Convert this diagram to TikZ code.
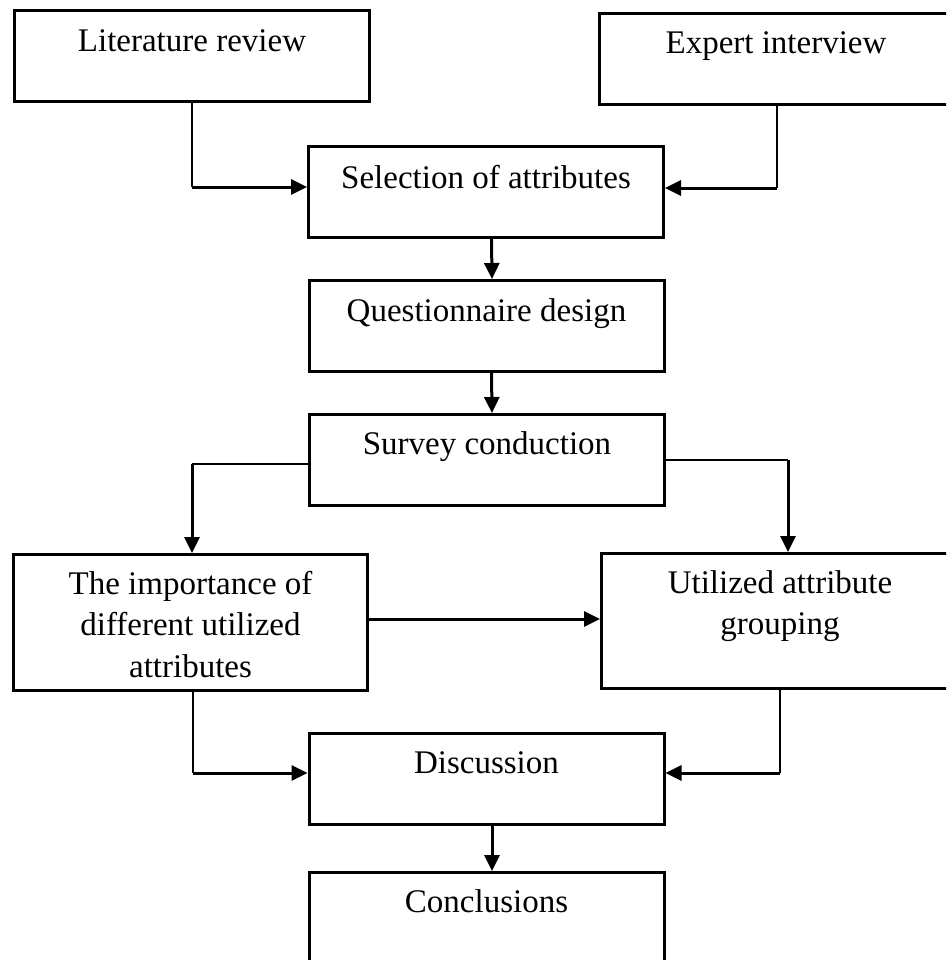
\documentclass[tikz,border=0pt]{standalone}
\usepackage{fontspec}
\setmainfont{Liberation Serif}
\usetikzlibrary{arrows.meta}
\begin{document}
\begin{tikzpicture}[x=1pt,y=-1pt,
  box/.style={draw, line width=3pt, rectangle, inner sep=0pt},
  lbl/.style={inner sep=0pt, anchor=base, font=\fontsize{33pt}{41.5pt}\selectfont},
  mlbl/.style={inner sep=0pt, anchor=north, align=center, font=\fontsize{33pt}{41.5pt}\selectfont},
  thinln/.style={line width=1.6pt},
  arr/.style={line width=3pt, -{Triangle[length=16pt,width=15pt]}}]
\useasboundingbox (0,0) rectangle (946,960);
\clip (0,0) rectangle (946,960);
% boxes
\node[box, minimum width=355pt, minimum height=91pt] (lit) at (192,56) {};
\node[box, minimum width=353pt, minimum height=91pt] (exp) at (776,59) {};
\node[box, minimum width=355pt, minimum height=91pt] (sel) at (486,192) {};
\node[box, minimum width=355pt, minimum height=91pt] (q) at (486.5,326) {};
\node[box, minimum width=355pt, minimum height=91pt] (sur) at (487,460) {};
\node[box, minimum width=354pt, minimum height=136pt] (imp) at (190.5,622.5) {};
\node[box, minimum width=357pt, minimum height=135pt] (util) at (780,621) {};
\node[box, minimum width=355pt, minimum height=91pt] (disc) at (486.5,779) {};
\node[box, minimum width=355pt, minimum height=91pt] (conc) at (486.5,918) {};
% labels
\node[lbl] (tlit) at ([yshift=-43pt]lit.north) {Literature review};
\node[lbl] (texp) at ([yshift=-42pt]exp.north) {Expert interview};
\node[lbl] (tsel) at ([yshift=-43pt]sel.north) {Selection of attributes};
\node[lbl] (tq) at ([yshift=-42pt]q.north) {Questionnaire design};
\node[lbl] (tsur) at ([yshift=-41pt]sur.north) {Survey conduction};
\node[mlbl] (timp) at ([yshift=-18pt]imp.north) {The importance of\\different utilized\\attributes};
\node[mlbl] (tutil) at ([yshift=-18pt]util.north) {Utilized attribute\\grouping};
\node[lbl] (tdisc) at ([yshift=-41pt]disc.north) {Discussion};
\node[lbl] (tconc) at ([yshift=-41pt]conc.north) {Conclusions};
% connectors
\coordinate (c1) at (192,187);
\draw[thinln] (lit.south) -- (c1);
\draw[arr] (c1) -- (sel.west |- c1);
\coordinate (c2) at (777,188);
\draw[thinln] (exp.south -| c2) -- (c2);
\draw[arr] (c2) -- (sel.east |- c2);
\draw[arr] ([xshift=5.5pt]sel.south) -- ([xshift=5.5pt]q.north);
\draw[arr] ([xshift=5pt]q.south) -- ([xshift=5pt]sur.north);
\coordinate (c3) at (192,464);
\draw[thinln] (sur.west |- c3) -- (c3);
\draw[arr] (c3) -- (imp.north -| c3);
\coordinate (c4) at (788,460);
\draw[thinln] (sur.east |- c4) -- (c4);
\draw[arr] (c4) -- (util.north -| c4);
\coordinate (c5) at (0,619);
\draw[arr] (imp.east |- c5) -- (util.west |- c5);
\coordinate (c6) at (193,773);
\draw[thinln] (imp.south -| c6) -- (c6);
\draw[arr] (c6) -- (disc.west |- c6);
\coordinate (c7) at (780,773);
\draw[thinln] (util.south -| c7) -- (c7);
\draw[arr] (c7) -- (disc.east |- c7);
\draw[arr] ([xshift=5.5pt]disc.south) -- ([xshift=5.5pt]conc.north);
\end{tikzpicture}
\end{document}
